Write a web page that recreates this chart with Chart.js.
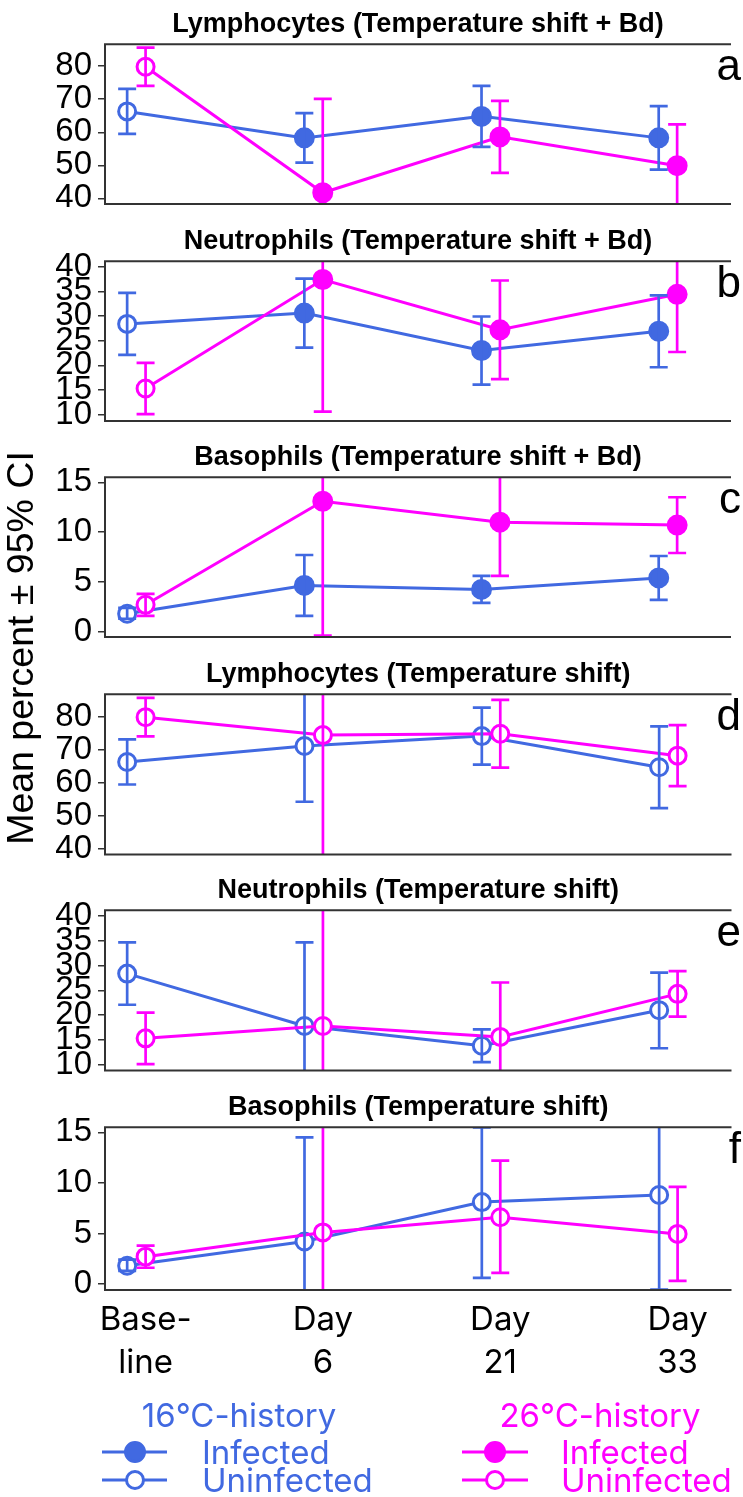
<!DOCTYPE html>
<html>
<head>
<meta charset="utf-8">
<script src="https://cdn.jsdelivr.net/npm/chart.js@4.4.1/dist/chart.umd.min.js"></script>
<style>
  body { margin: 0; background: #fff; }
  #fig { position: relative; width: 743px; height: 1497px; overflow: hidden; font-family: Inter, sans-serif; }
  #fig canvas { position: absolute; left: 0; }
  .ytitle { position: absolute; left: 21px; top: 648px; width: 600px; text-align: center; line-height: 1;
            font-family: 'Liberation Sans', Arial, sans-serif; font-size: 37.5px;
            transform: translate(-50%, -50%) rotate(-90deg); white-space: nowrap; color: #000; }
  .lg { position: absolute; font-size: 33px; line-height: 1; white-space: nowrap; }
  .lg.head { transform: translateX(-50%); }
  .cold { color: #4169E1; }
  .warm { color: #FF00FF; }
  #keys { position: absolute; left: 0; top: 0; }
</style>
</head>
<body>
<div id="fig">
  <div class="ytitle">Mean percent ± 95% CI</div>

  <svg id="keys" width="743" height="1497">
    <g stroke="#4169E1" stroke-width="3">
      <line x1="102" y1="1452" x2="167" y2="1452"/>
      <circle cx="135" cy="1452" r="9.5" fill="#4169E1"/>
      <line x1="102" y1="1480" x2="167" y2="1480"/>
      <circle cx="135" cy="1480" r="8.5" fill="#fff"/>
    </g>
    <g stroke="#FF00FF" stroke-width="3">
      <line x1="462" y1="1452" x2="528" y2="1452"/>
      <circle cx="495" cy="1452" r="9.5" fill="#FF00FF"/>
      <line x1="462" y1="1480" x2="528" y2="1480"/>
      <circle cx="495" cy="1480" r="8.5" fill="#fff"/>
    </g>
  </svg>
  <div class="lg head cold" style="left:239px; top:1399px;">16°C-history</div>
  <div class="lg cold" style="left:202px; top:1436px;">Infected</div>
  <div class="lg cold" style="left:202px; top:1464px;">Uninfected</div>
  <div class="lg head warm" style="left:600px; top:1399px;">26°C-history</div>
  <div class="lg warm" style="left:561px; top:1436px;">Infected</div>
  <div class="lg warm" style="left:561px; top:1464px;">Uninfected</div>
</div>

<script>
// sampling days on the shared x axis
const timepoints = [['Base-', 'line'], ['Day', '6'], ['Day', '21'], ['Day', '33']];

// y tick labels
const lymphTicks = [40, 50, 60, 70, 80];
const neutTicks = [10, 15, 20, 25, 30, 35, 40];
const basoTicks = [0, 5, 10, 15];

// filled marker = infected group, open marker = uninfected
const infectedBd = [false, true, true, true];
const infectedShift = [false, false, false, false];

// mean percent with lower / upper 95% CI, 16°C-history (cold) and 26°C-history (warm)
// Lymphocytes, temperature shift + Bd
const lymphBdCold   = [66.3, 58.3, 64.8, 58.3];
const lymphBdColdLo = [59.5, 50.8, 55.6, 48.7];
const lymphBdColdHi = [73.1, 65.8, 74.0, 67.9];
const lymphBdWarm   = [79.8, 41.7, 58.6, 49.9];
const lymphBdWarmLo = [74.0, 13.3, 47.7, 37.4];
const lymphBdWarmHi = [85.6, 70.1, 69.5, 62.4];

// Neutrophils, temperature shift + Bd
const neutBdCold   = [28.4, 30.6, 23.0, 26.9];
const neutBdColdLo = [22.1, 23.6, 16.1, 19.6];
const neutBdColdHi = [34.7, 37.6, 29.9, 34.2];
const neutBdWarm   = [15.3, 37.4, 27.2, 34.4];
const neutBdWarmLo = [10.1, 10.6, 17.2, 22.7];
const neutBdWarmHi = [20.5, 64.2, 37.2, 46.1];

// Basophils, temperature shift + Bd
const basoBdCold   = [1.8, 4.65, 4.25, 5.4];
const basoBdColdLo = [1.3, 1.6, 2.9, 3.2];
const basoBdColdHi = [2.4, 7.7, 5.6, 7.6];
const basoBdWarm   = [2.7, 13.1, 11.0, 10.7];
const basoBdWarmLo = [1.6, -0.4, 5.6, 7.9];
const basoBdWarmHi = [3.8, 26.6, 16.4, 13.5];

// Lymphocytes, temperature shift only
const lymphCold   = [66.3, 71.1, 74.1, 64.7];
const lymphColdLo = [59.5, 54.3, 65.5, 52.4];
const lymphColdHi = [73.1, 87.9, 82.7, 77.0];
const lymphWarm   = [79.8, 74.4, 74.8, 68.2];
const lymphWarmLo = [74.0, 34.4, 64.6, 59.0];
const lymphWarmHi = [85.6, 114.4, 85.0, 77.4];

// Neutrophils, temperature shift only
const neutCold   = [28.4, 17.8, 13.8, 21.0];
const neutColdLo = [22.1, 0.9, 10.5, 13.3];
const neutColdHi = [34.7, 34.7, 17.1, 28.6];
const neutWarm   = [15.3, 17.8, 15.6, 24.3];
const neutWarmLo = [10.1, -12.0, 4.6, 19.7];
const neutWarmHi = [20.5, 47.6, 26.6, 28.9];

// Basophils, temperature shift only
const basoCold   = [1.8, 4.2, 8.1, 8.8];
const basoColdLo = [1.3, -6.1, 0.6, -0.55];
const basoColdHi = [2.4, 14.5, 15.5, 18.2];
const basoWarm   = [2.7, 5.1, 6.6, 4.95];
const basoWarmLo = [1.6, -6.9, 1.1, 0.3];
const basoWarmHi = [3.8, 17.1, 12.2, 9.6];

const COLD = '#4169E1';
const WARM = '#FF00FF';
const ARIAL = "'Liberation Sans', Arial, sans-serif";

const panels = [
  { letter: 'a', title: 'Lymphocytes (Temperature shift + Bd)', yMin: 38.3, yMax: 86.6, ticks: lymphTicks, filled: infectedBd,
    cold: [lymphBdCold, lymphBdColdLo, lymphBdColdHi], warm: [lymphBdWarm, lymphBdWarmLo, lymphBdWarmHi] },
  { letter: 'b', title: 'Neutrophils (Temperature shift + Bd)', yMin: 8.7, yMax: 41.1, ticks: neutTicks, filled: infectedBd,
    cold: [neutBdCold, neutBdColdLo, neutBdColdHi], warm: [neutBdWarm, neutBdWarmLo, neutBdWarmHi] },
  { letter: 'c', title: 'Basophils (Temperature shift + Bd)', yMin: -0.53, yMax: 15.5, ticks: basoTicks, filled: infectedBd,
    cold: [basoBdCold, basoBdColdLo, basoBdColdHi], warm: [basoBdWarm, basoBdWarmLo, basoBdWarmHi] },
  { letter: 'd', title: 'Lymphocytes (Temperature shift)', yMin: 38.4, yMax: 86.7, ticks: lymphTicks, filled: infectedShift,
    cold: [lymphCold, lymphColdLo, lymphColdHi], warm: [lymphWarm, lymphWarmLo, lymphWarmHi] },
  { letter: 'e', title: 'Neutrophils (Temperature shift)', yMin: 8.8, yMax: 41.2, ticks: neutTicks, filled: infectedShift,
    cold: [neutCold, neutColdLo, neutColdHi], warm: [neutWarm, neutWarmLo, neutWarmHi] },
  { letter: 'f', title: 'Basophils (Temperature shift)', yMin: -0.6, yMax: 15.5, ticks: basoTicks, filled: infectedShift,
    cold: [basoCold, basoColdLo, basoColdHi], warm: [basoWarm, basoWarmLo, basoWarmHi] },
];

const DODGE = 0.104;  // cold group sits left of the category position

// CI whiskers, panel frame and panel letter
const panelDecor = {
  id: 'panelDecor',
  afterDatasetsDraw(chart, args, opts) {
    const { ctx, chartArea: area, scales: { x, y } } = chart;
    ctx.save();
    ctx.beginPath();
    ctx.rect(area.left, area.top, area.right - area.left, area.bottom - area.top);
    ctx.clip();
    ctx.lineWidth = 2.7;
    chart.data.datasets.forEach(ds => {
      ctx.strokeStyle = ds.borderColor;
      ds.data.forEach((pt, i) => {
        const px = x.getPixelForValue(pt.x);
        const lo = y.getPixelForValue(ds.ciLow[i]);
        const hi = y.getPixelForValue(ds.ciHigh[i]);
        ctx.beginPath();
        ctx.moveTo(px, lo); ctx.lineTo(px, hi);
        ctx.moveTo(px - 9, lo); ctx.lineTo(px + 9, lo);
        ctx.moveTo(px - 9, hi); ctx.lineTo(px + 9, hi);
        ctx.stroke();
      });
    });
    ctx.restore();

    ctx.save();
    ctx.strokeStyle = '#333';
    ctx.lineWidth = 2;
    ctx.beginPath();
    ctx.moveTo(area.right, area.top);
    ctx.lineTo(area.left, area.top);
    ctx.lineTo(area.left, area.bottom);
    ctx.lineTo(area.right, area.bottom);
    ctx.stroke();
    ctx.fillStyle = '#000';
    ctx.font = '44px ' + ARIAL;
    ctx.textAlign = 'right';
    ctx.textBaseline = 'alphabetic';
    ctx.fillText(opts.letter, 741, area.top + 36);
    ctx.restore();
  }
};

Chart.defaults.font.family = 'Inter';
Chart.defaults.color = '#000';

function series(label, vals, order, color, filled, shift) {
  const [mean, lo, hi] = vals;
  return {
    label,
    data: mean.map((v, i) => ({ x: i + 1 + shift, y: v })),
    ciLow: lo,
    ciHigh: hi,
    order,
    borderColor: color,
    borderWidth: 3,
    tension: 0,
    pointRadius: filled.map(f => f ? 9 : 8.5),
    pointBorderWidth: 3,
    pointBorderColor: color,
    pointBackgroundColor: filled.map(f => f ? color : '#fff'),
  };
}

const fig = document.getElementById('fig');
panels.forEach((p, k) => {
  const last = k === panels.length - 1;
  const canvas = document.createElement('canvas');
  canvas.width = 743;
  canvas.height = last ? 307 : 216;
  canvas.style.top = Math.round(k * 216.5) + 'px';
  fig.insertBefore(canvas, fig.firstChild);

  new Chart(canvas, {
    type: 'line',
    data: {
      datasets: [
        series('16°C-history', p.cold, 1, COLD, p.filled, -DODGE),
        series('26°C-history', p.warm, 0, WARM, p.filled, 0),
      ]
    },
    options: {
      responsive: false,
      animation: false,
      events: [],
      layout: { padding: { left: 0, right: 0, top: 0, bottom: last ? 0 : 9 } },
      plugins: {
        legend: { display: false },
        tooltip: { enabled: false },
        title: {
          display: true,
          text: p.title,
          fullSize: false,
          color: '#000',
          font: { family: ARIAL, size: 27, weight: 'bold', lineHeight: 1.1 },
          padding: { top: 9.2, bottom: 5.4 }
        },
        panelDecor: { letter: p.letter }
      },
      scales: {
        x: {
          type: 'linear',
          min: 0.771,
          max: 4.304,
          display: last,
          afterBuildTicks: s => { s.ticks = timepoints.map((_, i) => ({ value: i + 1 })); },
          afterFit: s => {
            if (last) s.height = 100;
            s.paddingLeft = 0;
            s.paddingRight = 0;
          },
          ticks: {
            autoSkip: false,
            maxRotation: 0,
            color: '#000',
            font: { size: 33, lineHeight: 1.3 },
            padding: 1,
            callback: (v, i) => timepoints[i]
          },
          grid: { display: false },
          border: { display: false }
        },
        y: {
          min: p.yMin,
          max: p.yMax,
          afterBuildTicks: s => { s.ticks = p.ticks.map(v => ({ value: v })); },
          afterFit: s => { s.width = 105; s.paddingTop = 0; s.paddingBottom = 0; },
          ticks: { autoSkip: false, color: '#000', font: { family: ARIAL, size: 33 }, padding: 6 },
          grid: { drawOnChartArea: false, drawTicks: true, tickLength: 7, color: '#333', lineWidth: 1.5 },
          border: { display: false }
        }
      }
    },
    plugins: [panelDecor]
  });
});
</script>
</body>
</html>
